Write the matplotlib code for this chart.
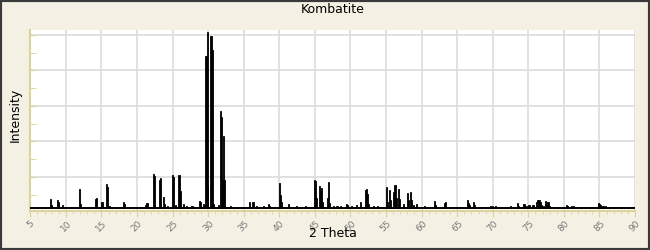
import matplotlib
matplotlib.use("Agg")
import matplotlib.pyplot as plt
from matplotlib.ticker import MultipleLocator
from matplotlib.patches import Rectangle

# Peak positions (2 Theta) and intensities
two_theta = [
    7.82, 7.96, 8.86, 9.0, 9.5, 11.9, 12.04, 14.2, 14.34, 15.06, 15.2,
    15.7, 15.85, 16.1, 18.1, 18.24, 21.25, 21.4, 22.32, 22.47, 23.17, 23.3,
    23.73, 23.87, 24.3, 25.0, 25.14, 25.4, 25.9, 26.04, 26.55, 27.0, 27.73,
    28.8, 28.94, 29.4, 29.54, 29.7, 29.85, 29.95, 30.4, 30.55, 30.7, 31.5,
    31.76, 31.9, 32.04, 32.18, 32.32, 33.1, 35.76, 36.3, 36.8, 37.8, 38.5,
    38.64, 40.07, 40.2, 40.35, 41.3, 42.4, 43.7, 44.9, 45.06, 45.2, 45.6,
    45.76, 45.9, 46.04, 46.75, 46.9, 47.04, 47.6, 48.1, 48.6, 49.4, 49.54,
    50.2, 50.8, 51.4, 52.1, 52.24, 52.4, 52.54, 53.2, 53.8, 55.05, 55.2,
    55.48, 55.62, 56.1, 56.27, 56.41, 56.7, 56.84, 57.5, 57.96, 58.1,
    58.38, 58.52, 58.9, 59.3, 60.45, 61.76, 61.9, 63.2, 63.34, 65.2, 66.46,
    66.6, 66.74, 67.3, 67.44, 68.3, 69.7, 70.0, 70.4, 71.2, 72.46, 73.45,
    73.6, 74.4, 74.8, 75.1, 75.66, 76.2, 76.34, 76.5, 76.64, 76.78, 77.1,
    77.45, 77.6, 77.73, 77.87, 78.0, 79.3, 80.4, 80.54, 81.1, 81.4, 82.3,
    83.1, 83.8, 84.9, 85.04, 85.18, 85.5, 85.9, 86.4, 87.2, 88.1,
]
intensity = [
    9, 3, 8, 6, 3.5, 19, 4.5, 9, 10, 6, 6,
    24, 21, 2.5, 6, 4, 3, 5, 34, 32, 28, 30,
    11, 4, 2, 33, 31, 3, 33, 17, 4, 2, 2.5,
    7, 6, 4, 3, 152, 176, 22, 172, 158, 4, 3,
    97, 91, 28, 72, 28, 2, 6, 6, 2, 2, 4,
    2, 25, 13, 6, 4, 2, 2, 28, 27, 10, 22,
    17, 20, 6, 10, 26, 5, 2, 2, 2, 4, 3,
    2, 3, 6, 18, 19, 14, 4, 2, 2, 21, 6,
    18, 8, 16, 23, 10, 19, 9, 4, 15, 8,
    16, 8, 3, 4, 2, 7, 3, 5, 6, 1, 8,
    5, 3, 6, 3, 1, 2, 2, 2, 1, 2, 5,
    2, 4, 2, 3, 3, 6, 8, 8, 6, 3, 2,
    7, 3, 6, 6, 2, 1, 3, 2, 2, 2, 1,
    1, 1, 5, 4, 3, 2, 2, 1, 1, 1,
]

x_ticks = list(range(5, 95, 5))

fig = plt.figure(figsize=(6.5, 2.5), dpi=100, facecolor="#F4F1E4")
ax = fig.add_axes([0.0466, 0.156, 0.9304, 0.724])
ax.set_facecolor("white")

# dark frame around the whole image
fig.patches.append(Rectangle((0, 0), 1, 1, transform=fig.transFigure,
                             fill=False, edgecolor="#3A3A3A", linewidth=3))

ax.bar(two_theta, intensity, width=0.16, color="black",
       edgecolor="black", linewidth=0.6, zorder=3)
ax.plot([5, 90], [0, 0], color="black", linewidth=1.4, zorder=3)

ax.set_xlim(5, 90)
ax.set_ylim(-2.7, 178.3)
ax.set_xticks(x_ticks)
ax.set_xticklabels([str(t) for t in x_ticks], rotation=45, fontsize=6.5,
                   color="#777777", ha="center", va="top")
ax.xaxis.set_minor_locator(MultipleLocator(1))
ax.set_yticks([31.5 + 35.5 * k for k in range(5)])
ax.set_yticks([13.75 + 35.5 * k for k in range(5)], minor=True)
ax.set_yticklabels([])

ax.grid(True, which="major", color="#DCDCDC", linewidth=1.2, zorder=0)
ax.set_axisbelow(True)

axis_col = "#DCD29A"
for side in ["top", "right"]:
    ax.spines[side].set_visible(False)
ax.spines["left"].set_color(axis_col)
ax.spines["bottom"].set_color(axis_col)
ax.spines["left"].set_linewidth(1.5)
ax.spines["bottom"].set_linewidth(1.5)
ax.tick_params(axis="x", which="major", direction="out", length=4,
               color=axis_col, pad=2)
ax.tick_params(axis="x", which="minor", direction="out", length=2.5,
               color=axis_col)
ax.tick_params(axis="y", which="both", direction="in", length=4,
               color=axis_col)

ax.set_title("Kombatite", fontsize=9, pad=12)
ax.set_xlabel("2 Theta", fontsize=9)
ax.xaxis.set_label_coords(0.5, -0.088)
ax.set_ylabel("Intensity", fontsize=9)
ax.yaxis.set_label_coords(-0.014, 0.53)

fig.savefig("out.png", dpi=100, facecolor=fig.get_facecolor())
